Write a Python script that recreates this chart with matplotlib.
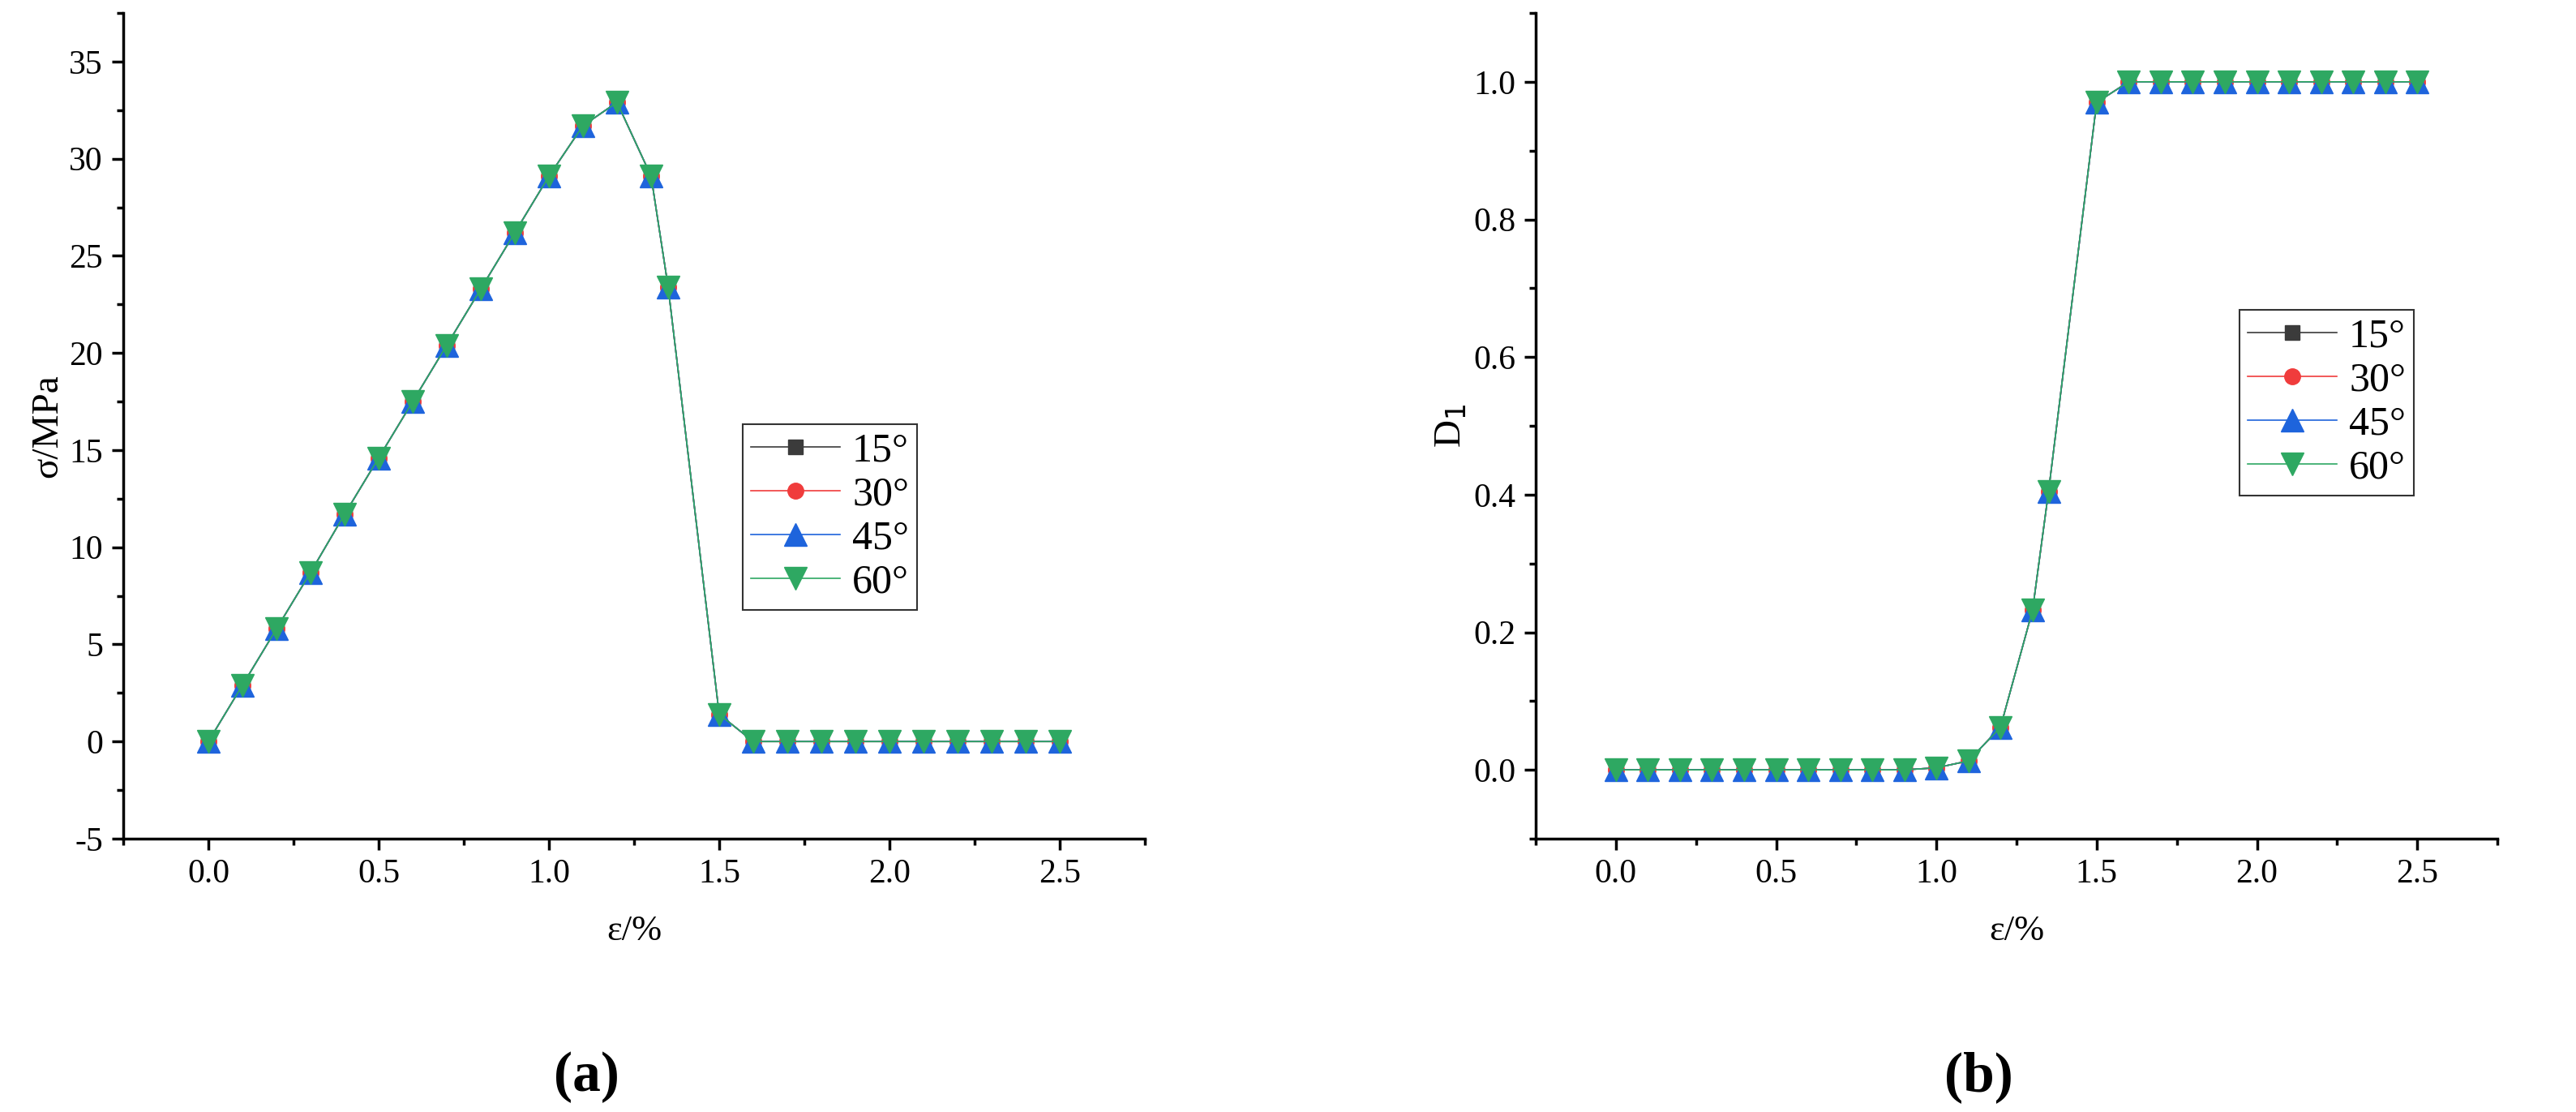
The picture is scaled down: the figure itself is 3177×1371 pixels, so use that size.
import matplotlib
matplotlib.use('Agg')
import matplotlib.pyplot as plt
from matplotlib.ticker import MultipleLocator

plt.rcParams['font.family'] = ['Liberation Serif', 'DejaVu Serif']
plt.rcParams['axes.unicode_minus'] = False

# strain (%)
strain = [0.0, 0.1, 0.2, 0.3, 0.4, 0.5, 0.6, 0.7, 0.8, 0.9, 1.0, 1.1, 1.2, 1.3, 1.35,
          1.5, 1.6, 1.7, 1.8, 1.9, 2.0, 2.1, 2.2, 2.3, 2.4, 2.5]
# stress (MPa), all angles overlap
stress = [0.0, 2.9, 5.8, 8.7, 11.7, 14.6, 17.5, 20.4, 23.3, 26.2, 29.1, 31.7, 32.9, 29.1, 23.4,
          1.4, 0.0, 0.0, 0.0, 0.0, 0.0, 0.0, 0.0, 0.0, 0.0, 0.0]
# damage D1
damage = [0.0, 0.0, 0.0, 0.0, 0.0, 0.0, 0.0, 0.0, 0.0, 0.0, 0.003, 0.013, 0.062, 0.232, 0.405,
          0.97, 1.0, 1.0, 1.0, 1.0, 1.0, 1.0, 1.0, 1.0, 1.0, 1.0]

angles = ['15°', '30°', '45°', '60°']
colors = ['#3b3b3b', '#f03c3c', '#1e64dc', '#2ea862']
markers = ['s', 'o', '^', 'v']
msizes = [13, 14, 20, 20]

fig = plt.figure(figsize=(31.77, 13.71), dpi=100)
ax1 = fig.add_axes([152 / 3177, 1 - 1034 / 1371, 1260 / 3177, 1018 / 1371])
ax2 = fig.add_axes([1894 / 3177, 1 - 1034 / 1371, 1186 / 3177, 1018 / 1371])


def draw(ax, y):
    for a, c, m, ms in zip(angles, colors, markers, msizes):
        ax.plot(strain, y, color=c, marker=m, markersize=ms, linewidth=1.2, label=a)
    ax.set_xlim(-0.25, 2.75)
    ax.xaxis.set_minor_locator(MultipleLocator(0.25))
    ax.set_xticks([0.0, 0.5, 1.0, 1.5, 2.0, 2.5])
    ax.set_xticklabels(['0.0', '0.5', '1.0', '1.5', '2.0', '2.5'])
    ax.spines['top'].set_visible(False)
    ax.spines['right'].set_visible(False)
    for s in ('left', 'bottom'):
        ax.spines[s].set_linewidth(2.5)
    ax.tick_params(which='major', length=10, width=2.5, labelsize=30, pad=8)
    ax.tick_params(which='minor', length=6, width=2.5)
    ax.set_xlabel('ε/%', fontsize=32, labelpad=22)


draw(ax1, stress)
ax1.set_ylim(-5, 37.5)
ax1.yaxis.set_major_locator(MultipleLocator(5))
ax1.yaxis.set_minor_locator(MultipleLocator(2.5))
ax1.set_ylabel('σ/MPa', fontsize=34)
leg = ax1.legend(loc='upper left', bbox_to_anchor=(764 / 1260, 1 - (523 - 16) / 1018),
                 fontsize=36, handlelength=2.2, borderpad=0.2, labelspacing=0.15,
                 fancybox=False, edgecolor='black', handletextpad=0.3, borderaxespad=0)
leg.get_frame().set_linewidth(1.5)

draw(ax2, damage)
ax2.set_ylim(-0.1, 1.1)
ax2.yaxis.set_minor_locator(MultipleLocator(0.1))
ax2.set_yticks([0.0, 0.2, 0.4, 0.6, 0.8, 1.0])
ax2.set_yticklabels(['0.0', '0.2', '0.4', '0.6', '0.8', '1.0'])
ax2.set_ylabel('D$_1$', fontsize=34)
leg = ax2.legend(loc='upper left', bbox_to_anchor=((2762 - 1894) / 1186, 1 - (382 - 16) / 1018),
                 fontsize=36, handlelength=2.2, borderpad=0.2, labelspacing=0.15,
                 fancybox=False, edgecolor='black', handletextpad=0.3, borderaxespad=0)
leg.get_frame().set_linewidth(1.5)

fig.text(723 / 3177, 1 - 1328 / 1371, '(a)', fontsize=50, fontweight='bold', ha='center', va='center')
fig.text(2440 / 3177, 1 - 1328 / 1371, '(b)', fontsize=50, fontweight='bold', ha='center', va='center')

fig.savefig('out.png', dpi=100)
